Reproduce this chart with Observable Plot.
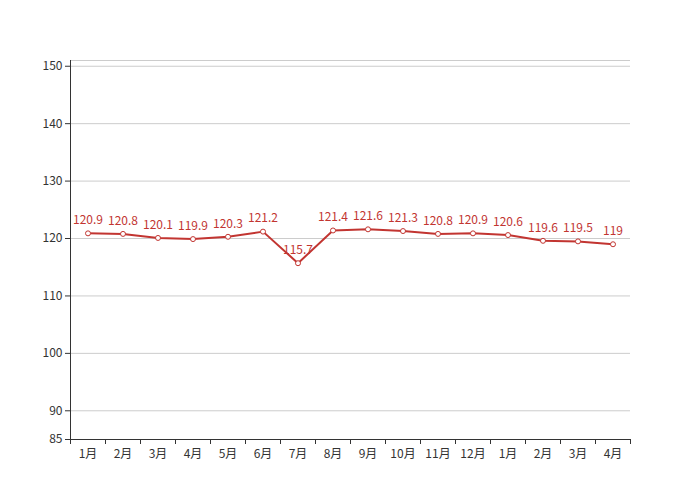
<!DOCTYPE html>
<html>
<head>
<meta charset="utf-8">
<script src="https://cdn.jsdelivr.net/npm/d3@7"></script>
<script src="https://cdn.jsdelivr.net/npm/@observablehq/plot@0.6"></script>
<style>
  html, body { margin: 0; padding: 0; background: #fff; }
  #chart { width: 700px; height: 500px; }
</style>
</head>
<body>
<div id="chart"></div>
<script>
const months = ["1月","2月","3月","4月","5月","6月","7月","8月","9月","10月","11月","12月","1月","2月","3月","4月"];
const values = [120.9,120.8,120.1,119.9,120.3,121.2,115.7,121.4,121.6,121.3,120.8,120.9,120.6,119.6,119.5,119];
const yTicks = [85,90,100,110,120,130,140,150];
const yDomain = [85, 151];

const data = months.map((m, i) => ({ pos: i + 0.5, label: m, value: values[i] }));
const red = "#c23531";

const chart = Plot.plot({
  width: 700,
  height: 500,
  marginLeft: 70,
  marginRight: 70,
  marginTop: 60,
  marginBottom: 61,
  style: { fontFamily: "'Noto Sans CJK SC', 'Noto Sans', sans-serif", fontSize: "12px", color: "#333", background: "#fff" },
  x: { type: "linear", domain: [0, months.length] },
  y: { domain: yDomain },
  marks: [
    Plot.ruleY(yTicks.filter(t => t !== 85).concat([yDomain[1]]), { stroke: "#ccc", strokeWidth: 1 }),
    Plot.axisY(yTicks, { tickSize: 5, tickPadding: 3, fontSize: 12, stroke: "#333", fill: "#333", label: null }),
    Plot.axisX(d3.range(months.length + 1), { tickSize: 5, tickFormat: () => "", stroke: "#333", label: null }),
    Plot.axisX(data.map(d => d.pos), { tickSize: 0, tickPadding: 10, tickFormat: (d) => months[Math.floor(d)], fill: "#333", fontSize: 12, label: null }),
    Plot.ruleX([0], { stroke: "#333", strokeWidth: 1 }),
    Plot.ruleY([yDomain[0]], { stroke: "#333", strokeWidth: 1 }),
    Plot.line(data, { x: "pos", y: "value", stroke: red, strokeWidth: 2 }),
    Plot.dot(data, { x: "pos", y: "value", r: 2.5, fill: "#fff", stroke: red, strokeWidth: 1 }),
    Plot.text(data, { x: "pos", y: "value", text: d => String(d.value), dy: -13, fill: red, fontSize: 12 })
  ]
});
document.getElementById("chart").appendChild(chart);
</script>
</body>
</html>
